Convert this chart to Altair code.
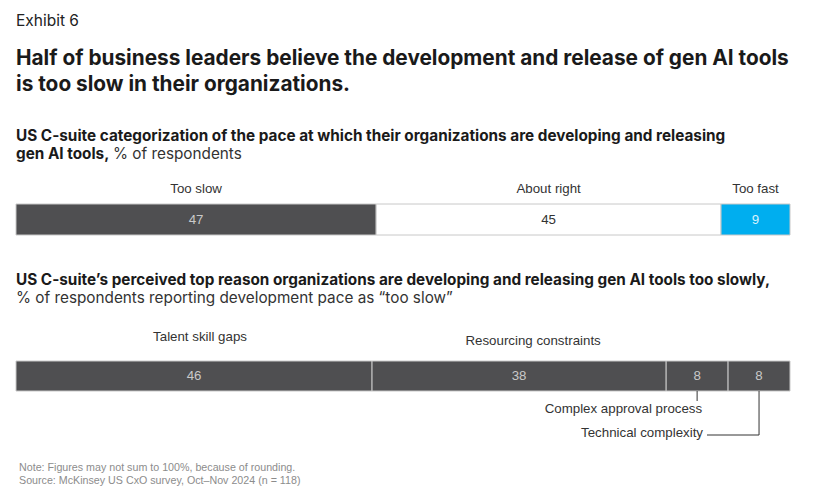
import altair as alt
import pandas as pd

# ---------------- data ----------------
pace_categories = ["Too slow", "About right", "Too fast"]
pace_values = [47, 45, 9]
pace_fill = ["#4f4f51", "#ffffff", "#00aeef"]
pace_text = ["#c9c9c9", "#333333", "#d8f2fc"]

reason_categories = ["Talent skill gaps", "Resourcing constraints",
                     "Complex approval process", "Technical complexity"]
reason_values = [46, 38, 8, 8]

exhibit = "Exhibit 6"
title_lines = ["Half of business leaders believe the development and release of gen AI tools",
               "is too slow in their organizations."]
sub1_bold = ["US C-suite categorization of the pace at which their organizations are developing and releasing",
             "gen AI tools,"]
sub1_reg = "% of respondents"
sub2_bold = "US C-suite\u2019s perceived top reason organizations are developing and releasing gen AI tools too slowly,"
sub2_reg = "% of respondents reporting development pace as \u201ctoo slow\u201d"
notes = ["Note: Figures may not sum to 100%, because of rounding.",
         "Source: McKinsey US CxO survey, Oct\u2013Nov 2024 (n = 118)"]


def segs(cats, vals):
    df = pd.DataFrame({"cat": cats, "value": vals})
    tot = df["value"].sum()
    df["end"] = df["value"].cumsum() / tot
    df["start"] = df["end"] - df["value"] / tot
    df["mid"] = (df["start"] + df["end"]) / 2
    df["label"] = df["value"].astype(str)
    return df


d1 = segs(pace_categories, pace_values)
d2 = segs(reason_categories, reason_values)

HEAD = "Inter"
LAB = "Liberation Sans"
LS = 13.3
SS = 15.3
X = lambda f: alt.X(f, type="quantitative",
                    scale=alt.Scale(domain=[0, 1], nice=False, zero=True), axis=None)

one = pd.DataFrame({"k": [0]})


def txt(s, x, y, size, weight="normal", color="#1a1a1a", font=HEAD):
    return alt.Chart(one).mark_text(
        text=s, align="left", baseline="alphabetic", fontSize=size,
        fontWeight=weight, color=color, font=font
    ).encode(x=alt.value(x), y=alt.value(y))


layers = []
# headings (plot origin = page (16, 8))
layers.append(txt(exhibit, 0, 18, 15.5, "normal", "#222222"))
layers.append(txt(title_lines[0], 0, 57, 20.8, "bold"))
layers.append(txt(title_lines[1], 0, 83, 20.8, "bold"))
layers.append(txt(sub1_bold[0], 0, 133, SS, "bold"))
layers.append(txt(sub1_bold[1], 0, 151, SS, "bold"))
layers.append(txt(sub1_reg, 97, 151, SS, "normal", "#333333"))
layers.append(txt(sub2_bold, 0, 277, SS, "bold"))
layers.append(txt(sub2_reg, 0, 295, SS, "normal", "#333333"))
layers.append(txt(notes[0], 3, 463, 10.7, "normal", "#8c8c8c", LAB))
layers.append(txt(notes[1], 3, 476, 10.7, "normal", "#8c8c8c", LAB))

fill1 = alt.Color("cat:N", scale=alt.Scale(domain=pace_categories, range=pace_fill), legend=None)
tcol1 = alt.Color("cat:N", scale=alt.Scale(domain=pace_categories, range=pace_text), legend=None)

b1 = alt.Chart(d1)
bars1 = b1.mark_rect(stroke="#c8c8c8", strokeWidth=1).encode(
    x=X("start"), x2="end", y=alt.value(196), y2=alt.value(227), color=fill1)
nums1 = b1.mark_text(fontSize=LS, font=LAB, baseline="middle").encode(
    x=X("mid"), y=alt.value(212), text="label:N", color=tcol1)
layers.append(b1.mark_text(fontSize=LS, font=LAB, baseline="alphabetic", color="#333333").encode(
    x=X("mid"), y=alt.value(185), text="cat:N"))

b2 = alt.Chart(d2)
layers.append(b2.mark_rect(stroke="#c8c8c8", strokeWidth=1, color="#4f4f51").encode(
    x=X("start"), x2="end", y=alt.value(353), y2=alt.value(383)))
layers.append(b2.mark_text(fontSize=LS, font=LAB, baseline="middle", color="#c9c9c9").encode(
    x=X("mid"), y=alt.value(368), text="label:N"))
# labels above
layers.append(b2.transform_filter(alt.datum.cat == reason_categories[0]).mark_text(
    fontSize=LS, font=LAB, baseline="alphabetic", color="#333333", dx=6).encode(
    x=X("mid"), y=alt.value(333), text="cat:N"))
layers.append(b2.transform_filter(alt.datum.cat == reason_categories[1]).mark_text(
    fontSize=LS, font=LAB, baseline="alphabetic", color="#333333", dx=14).encode(
    x=X("mid"), y=alt.value(337), text="cat:N"))
# callouts below
c3 = b2.transform_filter(alt.datum.cat == reason_categories[2])
c4 = b2.transform_filter(alt.datum.cat == reason_categories[3])
layers.append(c3.mark_rule(color="#333333", strokeWidth=1).encode(
    x=X("mid"), y=alt.value(383), y2=alt.value(393)))
layers.append(c3.mark_text(fontSize=LS, font=LAB, baseline="alphabetic", align="right",
                           color="#333333", dx=5).encode(
    x=X("mid"), y=alt.value(405), text="cat:N"))
layers.append(c4.mark_rule(color="#333333", strokeWidth=1).encode(
    x=X("mid"), y=alt.value(383), y2=alt.value(427)))
layers.append(c4.mark_rule(color="#333333", strokeWidth=1).encode(
    x=X("mid"), x2=alt.value(691), y=alt.value(427)))
layers.append(c4.mark_text(fontSize=LS, font=LAB, baseline="alphabetic", align="right",
                           color="#333333").encode(
    x=alt.value(687), y=alt.value(429), text="cat:N"))

pace = alt.layer(bars1, nums1).resolve_scale(color="independent")

chart = alt.layer(pace, *layers).properties(
    width=774, height=478,
    background="white",
    autosize=alt.AutoSizeParams(type="none"),
    padding={"left": 8, "top": 0, "right": 11, "bottom": 0},
).configure_view(strokeWidth=0, stroke="transparent")

chart.save("out.html", embed_options={"renderer": "svg", "actions": False})
